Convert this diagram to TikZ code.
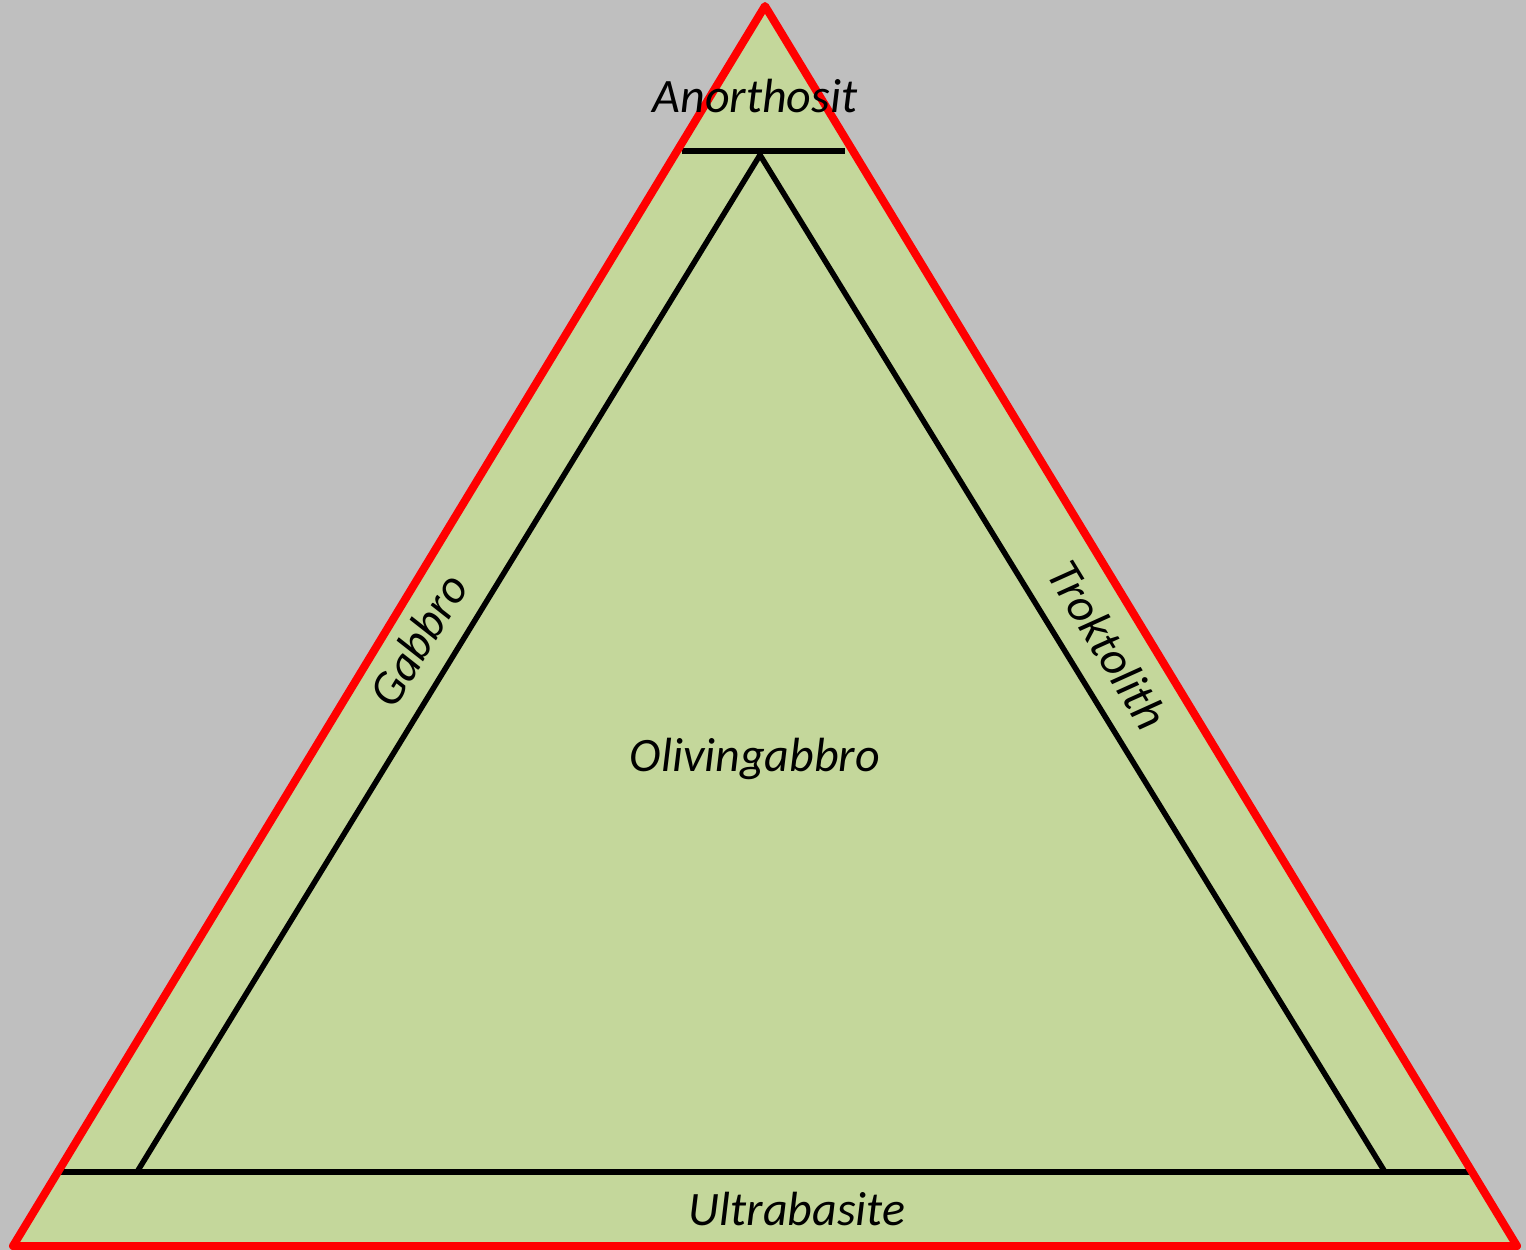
\documentclass[tikz,border=0pt]{standalone}
\usepackage{fontspec}
\setmainfont{Carlito}
\definecolor{bg}{RGB}{191,191,191}
\definecolor{fillg}{RGB}{196,215,155}
\definecolor{redl}{RGB}{255,0,0}
\begin{document}
\begin{tikzpicture}[x=1pt,y=-1pt,
  lbl/.style={font=\fontsize{48}{56}\selectfont\itshape, inner sep=0pt},
  blk/.style={draw=black, line width=5.5pt}]
\fill[bg] (0,0) rectangle (1526,1250);
\useasboundingbox (0,0) rectangle (1526,1250);
\coordinate (A) at (765,6);
\coordinate (BL) at (13,1246);
\coordinate (BR) at (1517,1246);
\fill[fillg] (A) -- (BL) -- (BR) -- cycle;
% inner lines
\coordinate (t1) at (682,151);
\coordinate (t2) at (845,151);
\coordinate (ia) at (760,155);
\coordinate (ibl) at (137,1172);
\coordinate (ibr) at (1385,1172);
\coordinate (b1) at (57,1172);
\coordinate (b2) at (1472,1172);
\draw[blk] (t1) -- (t2);
\draw[blk, line join=miter] (ibl) -- (ia) -- (ibr);
\draw[blk] (b1) -- (b2);
\draw[redl, line width=8pt, line join=round] (A) -- (BL) -- (BR) -- cycle;
\node[lbl] (anor) at (755,96) {Anorthosit};
\node[lbl] (oliv) at (755,759) {Olivingabbro};
\node[lbl] (ultra) at (797,1209) {Ultrabasite};
\node[lbl, rotate=58.75] (gab) at (418,640) {Gabbro};
\node[lbl, rotate=-58.75] (trok) at (1108,645) {Troktolith};
\end{tikzpicture}
\end{document}
